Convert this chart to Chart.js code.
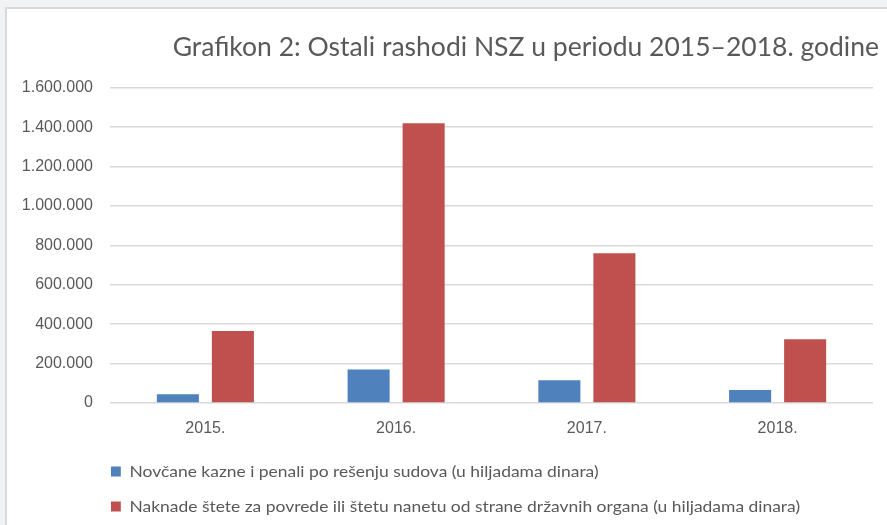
<!DOCTYPE html>
<html>
<head>
<meta charset="utf-8">
<script src="https://cdn.jsdelivr.net/npm/chart.js@4.4.1/dist/chart.umd.min.js"></script>
<style>
  html, body { margin: 0; padding: 0; background: #f1f2f4; width: 887px; height: 525px; overflow: hidden; }
  #frame { position: absolute; left: 5px; top: 7px; width: 880px; height: 516px; border-left: 2px solid #d9d9d9; border-top: 2px solid #d9d9d9; background: #ffffff; }
  #c { display: block; }
</style>
</head>
<body>
<div id="frame"><canvas id="c" width="880" height="516"></canvas></div>
<script>
const categories = ["2015.", "2016.", "2017.", "2018."];
const seriesNames = [
  "Novčane kazne i penali po rešenju sudova (u hiljadama dinara)",
  "Naknade štete za povrede ili štetu nanetu od strane državnih organa (u hiljadama dinara)"
];
const finesValues = [45000, 170000, 115000, 66000];
const damagesValues = [365000, 1420000, 760000, 323000];
const yTicks = [0, 200000, 400000, 600000, 800000, 1000000, 1200000, 1400000, 1600000];
const titleText = "Grafikon 2: Ostali rashodi NSZ u periodu 2015–2018. godine";

const textColor = "#595959";

function fmt(v) {
  return v === 0 ? "0" : v.toString().replace(/\B(?=(\d{3})+(?!\d))/g, ".");
}

const LEGEND_LEFT = 104;
const LEGEND_SCALE_X = 1.09;
const TITLE_SHIFT = 6;

const layoutTweaks = {
  id: "layoutTweaks",
  afterLayout(chart) {
    const l = chart.legend;
    const pad = l.options.labels.padding;
    const dx = LEGEND_LEFT - (l.left + pad);
    l.left += dx;
    l.right += dx;
    if (!l._scaled) {
      const orig = l.draw.bind(l);
      l.draw = function () {
        const ctx = this.ctx;
        const x0 = this.left + this.options.labels.padding;
        ctx.save();
        ctx.translate(x0, 0);
        ctx.scale(LEGEND_SCALE_X, 1);
        ctx.translate(-x0, 0);
        orig();
        ctx.restore();
      };
      l._scaled = true;
    }
    const t = chart.titleBlock;
    t.left += TITLE_SHIFT;
    t.right += TITLE_SHIFT;
  }
};

new Chart(document.getElementById("c"), {
  type: "bar",
  data: {
    labels: categories,
    datasets: [
      { label: seriesNames[0], data: finesValues, backgroundColor: "#4f81bd", categoryPercentage: 0.577, barPercentage: 0.764 },
      { label: seriesNames[1], data: damagesValues, backgroundColor: "#c0504d", categoryPercentage: 0.577, barPercentage: 0.764 }
    ]
  },
  options: {
    responsive: false,
    animation: false,
    layout: { padding: { left: 0, right: 14, top: 0, bottom: 0.5 } },
    plugins: {
      tooltip: { enabled: false },
      title: {
        display: true,
        text: titleText,
        align: "end",
        color: textColor,
        font: { family: "Lato", size: 26.5, weight: "normal" },
        padding: { top: 23, bottom: 24 }
      },
      legend: {
        position: "bottom",
        align: "start",
        labels: {
          color: textColor,
          boxWidth: 9,
          boxHeight: 10,
          padding: 19,
          font: { family: "Lato", size: 16 }
        }
      }
    },
    scales: {
      x: {
        grid: { display: false, drawTicks: false },
        border: { display: false },
        ticks: { color: textColor, padding: 16, font: { family: "Liberation Sans", size: 16 } },
        afterFit(s) { s.height = 41.5; }
      },
      y: {
        min: 0,
        max: 1600000,
        afterBuildTicks(s) { s.ticks = yTicks.map(v => ({ value: v })); },
        grid: { color: "#d9d9d9", lineWidth: 1.5, drawTicks: false },
        border: { display: false },
        ticks: { color: textColor, padding: 17, font: { family: "Liberation Sans", size: 16 }, callback: v => fmt(v) },
        afterFit(s) { s.width = 103; }
      }
    }
  },
  plugins: [layoutTweaks]
});
</script>
</body>
</html>
